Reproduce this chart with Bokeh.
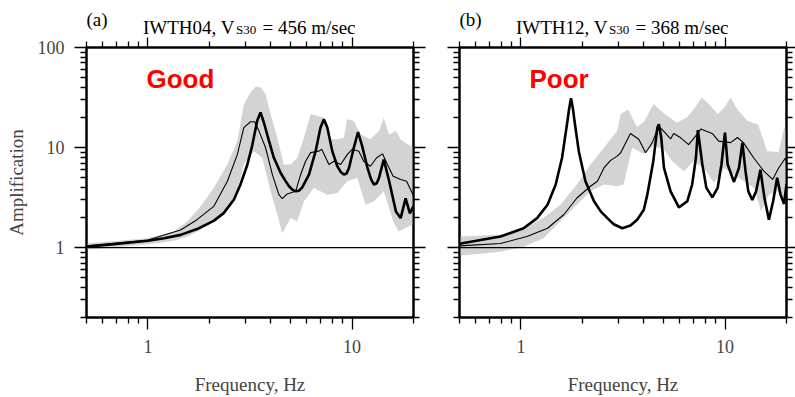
from bokeh.plotting import figure
from bokeh.models import LogAxis, FixedTicker, CustomJSTickFormatter, Label, Span
from bokeh.layouts import row, column
from bokeh.embed import file_html
from bokeh.resources import INLINE

# ---------------- data ----------------
X_MAJOR = [1, 10]
X_MINOR = [0.5, 0.6, 0.7, 0.8, 0.9, 2, 3, 4, 5, 6, 7, 8, 9, 20]
Y_MAJOR = [1, 10, 100]
Y_MINOR = [0.2, 0.3, 0.4, 0.5, 0.6, 0.7, 0.8, 0.9, 2, 3, 4, 5, 6, 7, 8, 9,
           20, 30, 40, 50, 60, 70, 80, 90]

TITLES = ["IWTH04", "IWTH12"]
VS30 = ["456", "368"]
TAGS = ["(a)", "(b)"]
VERDICT = ["Good", "Poor"]

# Panel (a) IWTH04 : band of observed (upper / lower), observed mean, theoretical
a_up_f = [0.5, 1.0, 1.34, 1.56, 1.81, 2.10, 2.45, 2.74, 2.95, 3.18, 3.37, 3.56, 3.77, 3.99, 4.30,
          4.63, 5.0, 5.39, 5.81, 6.27, 6.76, 7.28, 7.85, 8.47, 9.12, 9.47, 10.2, 11.0, 12.3, 13.55,
          14.3, 15.2, 16.4, 17.3, 18.5, 20.0]
a_up_A = [1.10, 1.24, 1.45, 1.83, 2.58, 3.95, 6.77, 11.6, 27.0, 35.5, 40.5, 40.0, 34.0, 21.6, 12.5,
          6.77, 6.77, 7.9, 12.5, 21.6, 20.7, 19.8, 12.1, 12.1, 12.5, 19.2, 18.4, 13.5, 12.1, 14.6,
          19.8, 13.5, 14.6, 12.0, 11.0, 10.0]
a_lo_f = [0.5, 1.0, 1.34, 1.56, 1.81, 2.10, 2.45, 2.74, 2.95, 3.30, 3.63, 3.99, 4.30, 4.55, 5.0,
          5.39, 5.81, 6.5, 7.57, 8.47, 9.47, 10.6, 11.66, 12.8, 14.3, 15.9, 16.9, 18.5, 20.0]
a_lo_A = [0.95, 1.08, 1.17, 1.29, 1.50, 1.83, 2.48, 3.65, 6.77, 9.2, 7.9, 3.65, 2.14, 1.39, 1.97,
          1.83, 2.9, 3.95, 3.38, 3.51, 4.6, 4.97, 2.68, 2.9, 3.65, 1.83, 1.45, 1.6, 1.7]
a_obs_f = [0.5, 1.0, 1.445, 1.74, 2.10, 2.45, 2.74, 2.95, 3.18, 3.33, 3.50, 3.77, 4.07, 4.38, 4.55,
           4.81, 5.29, 5.6, 5.92, 6.27, 6.88, 7.1, 7.7, 8.15, 8.79, 9.47, 10.0, 10.8, 11.4, 12.3,
           13.2, 14.1, 14.9, 15.9, 17.3, 18.5, 20.0]
a_obs_A = [1.04, 1.19, 1.5, 1.9, 2.58, 4.6, 8.5, 15.8, 18.1, 18.1, 14.6, 9.95, 5.37, 3.38, 3.09,
           3.43, 3.65, 5.37, 7.3, 8.9, 9.2, 9.6, 6.77, 7.3, 6.77, 8.5, 9.6, 9.2, 7.3, 6.5,
           7.9, 8.65, 6.77, 5.17, 4.79, 4.6, 3.3]
a_th_f = [0.5, 0.68, 1.0, 1.2, 1.445, 1.74, 2.10, 2.35, 2.64, 2.84, 3.07, 3.24, 3.43, 3.56, 3.70,
          3.92, 4.14, 4.47, 4.70, 4.91, 5.10, 5.29, 5.50, 5.70, 6.15, 6.63, 7.0, 7.28, 7.57, 8.0,
          8.47, 8.80, 9.12, 9.40, 9.66, 10.2, 10.7, 11.2, 11.9, 12.4, 12.8, 13.2, 13.55, 14.3, 15.2,
          16.4, 17.3, 18.3, 19.2, 20.0]
a_th_A = [1.02, 1.08, 1.17, 1.24, 1.34, 1.53, 1.85, 2.21, 3.02, 4.27, 6.77, 10.4, 18.5, 22.4, 17.7,
          11.6, 7.9, 5.57, 4.7, 4.1, 3.8, 3.65, 3.7, 4.0, 5.37, 9.2, 15.8, 19.2, 15.8, 9.2,
          6.5, 5.7, 5.37, 5.5, 6.25, 9.95, 14.3, 10.4, 6.25, 4.8, 4.27, 4.4, 4.97, 7.6, 4.6,
          2.3, 1.97, 3.1, 2.2, 2.6]

# Panel (b) IWTH12
b_up_f = [0.5, 0.794, 1.03, 1.29, 1.56, 1.88, 2.19, 2.55, 2.96, 3.08, 3.35, 3.7, 4.0, 4.47, 5.0,
          5.8, 6.5, 7.0, 7.7, 8.5, 9.2, 9.9, 10.65, 11.5, 12.9, 14.5, 16.1, 18.3, 19.5, 20.0]
b_up_A = [1.29, 1.34, 1.56, 1.97, 2.68, 4.27, 6.77, 9.95, 14.6, 21.7, 24.0, 16.0, 18.0, 27.3, 22.0,
          17.7, 20.0, 24.0, 31.6, 26.0, 21.7, 25.0, 31.6, 24.0, 18.4, 17.0, 9.2, 9.0, 16.0, 14.0]
b_lo_f = [0.5, 0.794, 1.03, 1.29, 1.56, 1.88, 2.19, 2.55, 2.96, 3.18, 3.51, 4.0, 4.47, 5.0, 5.51,
          6.29, 7.0, 7.88, 8.82, 9.88, 11.0, 12.4, 13.9, 15.0, 16.4, 18.0, 19.6, 20.0]
b_lo_A = [0.83, 0.91, 1.02, 1.24, 1.83, 2.68, 3.65, 4.27, 4.1, 4.27, 9.95, 8.6, 10.4, 9.6, 7.3,
          5.8, 7.3, 6.25, 4.42, 6.25, 5.37, 4.6, 3.95, 2.3, 3.38, 3.65, 3.0, 3.2]
b_obs_f = [0.5, 0.794, 1.07, 1.35, 1.62, 1.88, 2.19, 2.37, 2.55, 2.75, 2.96, 3.08, 3.44, 3.78, 4.08,
           4.40, 4.73, 5.0, 5.41, 5.6, 6.06, 6.63, 7.17, 7.6, 8.7, 9.3, 10.65, 11.5, 12.3, 13.8,
           15.5, 17.1, 18.3, 19.8, 20.0]
b_obs_A = [1.04, 1.10, 1.29, 1.56, 2.13, 3.13, 4.1, 4.6, 6.25, 7.44, 8.2, 8.87, 13.8, 12.1, 8.87,
           11.2, 16.4, 14.6, 12.2, 13.8, 12.5, 10.7, 13.0, 15.3, 13.7, 11.6, 11.2, 12.6, 11.2, 7.9,
           5.8, 4.8, 6.25, 7.9, 7.0]
b_th_f = [0.5, 0.794, 1.03, 1.20, 1.35, 1.48, 1.59, 1.69, 1.72, 1.76, 1.80, 1.83, 1.92, 2.07, 2.28,
          2.46, 2.65, 2.85, 3.14, 3.44, 3.71, 4.0, 4.16, 4.45, 4.66, 4.74, 4.87, 5.02, 5.41, 5.94,
          6.53, 6.9, 7.2, 7.36, 7.74, 8.1, 8.66, 9.2, 9.6, 9.99, 10.3, 11.06, 11.7, 12.16, 12.6,
          13.0, 13.6, 14.2, 14.9, 15.6, 16.4, 17.2, 18.0, 18.7, 19.45, 20.0]
b_th_A = [1.09, 1.29, 1.56, 1.97, 2.68, 4.27, 7.9, 18.4, 24.0, 31.2, 24.0, 18.4, 9.2, 4.6, 2.9,
          2.3, 1.97, 1.71, 1.56, 1.66, 1.9, 2.39, 3.38, 7.3, 15.8, 17.1, 12.5, 6.27, 3.65, 2.52,
          2.9, 4.27, 7.9, 14.9, 6.77, 3.95, 3.18, 3.95, 6.77, 14.1, 6.77, 4.53, 6.27, 11.2, 5.8,
          3.65, 3.0, 3.65, 6.0, 3.13, 1.9, 2.9, 5.0, 3.38, 2.73, 4.3]

SERIF = "Liberation Serif"
BAND = "#d3d3d3"
TITLE_H = 37          # height of the title strip above each panel
TOP_TICK = 10         # top axis major tick length (fits the panel's top border)


def style_axis(ax, xdir, labels):
    ax.ticker = FixedTicker(ticks=X_MAJOR if xdir else Y_MAJOR,
                            minor_ticks=X_MINOR if xdir else Y_MINOR)
    ax.major_tick_in = 0
    ax.major_tick_out = 12
    ax.minor_tick_in = 0
    ax.minor_tick_out = 6
    ax.axis_line_width = 2
    ax.major_tick_line_width = 1.3
    ax.minor_tick_line_width = 1.3
    ax.major_label_text_font = SERIF
    ax.axis_label_text_font = SERIF
    ax.axis_label_text_font_size = "19px"
    ax.axis_label_text_font_style = "normal"
    if labels:
        ax.formatter = CustomJSTickFormatter(code="return String(Math.round(tick));")
        ax.major_label_text_font_size = "18px"
        ax.major_label_standoff = 10
    else:
        ax.formatter = CustomJSTickFormatter(code="return '';")
        ax.major_label_text_font_size = "0px"
        ax.major_label_standoff = 0


def panel(width, bl, br, up_f, up_A, lo_f, lo_A, obs_f, obs_A, th_f, th_A,
          word, word_dx, left_labels, right_tick):
    p = figure(width=width, height=397 - TITLE_H, x_axis_type="log", y_axis_type="log",
               x_range=(0.5, 20), y_range=(0.2, 100), output_backend="svg",
               toolbar_location=None, min_border_left=bl, min_border_right=br,
               min_border_top=47 - TITLE_H, min_border_bottom=80, title=None)
    p.grid.visible = False
    p.outline_line_color = "black"
    p.outline_line_width = 2

    style_axis(p.xaxis[0], True, True)
    p.xaxis[0].axis_label = "Frequency, Hz"
    p.xaxis[0].axis_label_standoff = 18
    style_axis(p.yaxis[0], False, left_labels)
    if left_labels:
        p.yaxis[0].axis_label = "Amplification"
        p.yaxis[0].axis_label_standoff = 8

    top = LogAxis()
    style_axis(top, True, False)
    top.major_tick_out = TOP_TICK
    p.add_layout(top, "above")
    right = LogAxis()
    style_axis(right, False, False)
    right.major_tick_out = right_tick
    right.minor_tick_out = min(6, right_tick)
    p.add_layout(right, "right")

    p.patch(up_f + lo_f[::-1], up_A + lo_A[::-1], fill_color=BAND, line_color=None)
    p.line(obs_f, obs_A, line_color="black", line_width=1.1)
    p.line(th_f, th_A, line_color="black", line_width=2.6)
    p.add_layout(Span(location=1, dimension="width", line_color="black", line_width=1.2))

    p.add_layout(Label(x=0.5, y=100, x_offset=word_dx, y_offset=-31, text=word,
                       text_font="Liberation Sans", text_font_size="26px",
                       text_color="#ff0000", text_font_style="bold",
                       text_align="left", text_baseline="alphabetic"))
    return p


def title_fig(width, frame_left, tag, name, vs):
    t = figure(width=width, height=TITLE_H, x_range=(0, width), y_range=(0, TITLE_H),
               output_backend="svg", toolbar_location=None, min_border=0,
               x_axis_location=None, y_axis_location=None, title=None)
    t.grid.visible = False
    t.outline_line_color = None

    def lab(text, dx, baseline_from_top, size="19px"):
        t.add_layout(Label(x=frame_left + dx, y=TITLE_H - baseline_from_top, text=text,
                           text_font=SERIF, text_font_size=size, text_color="black",
                           text_align="left", text_baseline="alphabetic"))

    lab(tag, 0, 19.3)
    lab(name + ", V", 56.5, 26.6)
    lab("S30", 149.5, 29.2, size="13px")
    lab("= " + vs + " m/sec", 176, 26.6)
    return t


ta = title_fig(436, 86, TAGS[0], TITLES[0], VS30[0])
tb = title_fig(359, 23, TAGS[1], TITLES[1], VS30[1])
pa = panel(436, 86, 23, a_up_f, a_up_A, a_lo_f, a_lo_A, a_obs_f, a_obs_A, a_th_f, a_th_A,
           VERDICT[0], 60, True, 12)
pb = panel(359, 23, 9, b_up_f, b_up_A, b_lo_f, b_lo_A, b_obs_f, b_obs_A, b_th_f, b_th_A,
           VERDICT[1], 70, False, 9)

layout = column(row(ta, tb), row(pa, pb))
open("out.html", "w").write(file_html(layout, INLINE))
